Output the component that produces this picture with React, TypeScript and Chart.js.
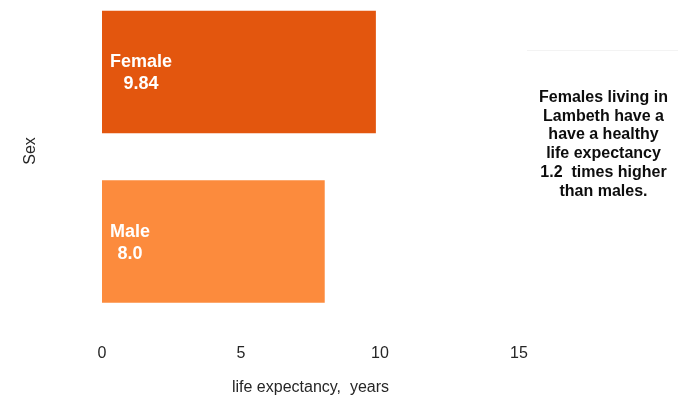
import React, { useEffect, useRef } from "react";
import { Chart, registerables } from "chart.js";

Chart.register(...registerables);

const categories = ["Female", "Male"];
const values = [9.84, 8.0];
const valueLabels = ["9.84", "8.0"];
const barColors = ["#E3560E", "#FC8B3D"];
const xTicks = [0, 5, 10, 15];
const xTitle = "life expectancy,  years";
const yTitle = "Sex";
const noteLines = [
  "Females living in",
  "Lambeth have a",
  "have a healthy",
  "life expectancy",
  "1.2  times higher",
  "than males.",
];

const FONT = '"Liberation Sans", Arial, sans-serif';

const textPlugin = {
  id: "textPlugin",
  afterDatasetsDraw(chart: any) {
    const ctx = chart.ctx;
    const meta = chart.getDatasetMeta(0);
    ctx.save();
    // bar labels
    ctx.fillStyle = "#ffffff";
    ctx.font = `bold 18px ${FONT}`;
    ctx.textAlign = "center";
    ctx.textBaseline = "middle";
    meta.data.forEach((bar: any, i: number) => {
      const lines = [categories[i], valueLabels[i]];
      const w = Math.max(...lines.map((l) => ctx.measureText(l).width));
      const left = Math.min(bar.base, bar.x) + 8;
      const cx = left + w / 2;
      ctx.fillText(lines[0], cx, bar.y - 9.5);
      ctx.fillText(lines[1], cx, bar.y + 12.5);
    });
    // y axis title
    ctx.fillStyle = "#262626";
    ctx.font = `16px ${FONT}`;
    ctx.save();
    ctx.translate(31, 151);
    ctx.rotate(-Math.PI / 2);
    ctx.fillText(yTitle, 0, 0);
    ctx.restore();
    // note
    ctx.strokeStyle = "#f3f3f3";
    ctx.lineWidth = 1;
    ctx.beginPath();
    ctx.moveTo(527, 50.5);
    ctx.lineTo(678, 50.5);
    ctx.stroke();
    ctx.fillStyle = "#0d0d0d";
    ctx.font = `bold 16px ${FONT}`;
    ctx.textBaseline = "alphabetic";
    noteLines.forEach((l, i) => {
      ctx.fillText(l, 603.5, 102 + i * 18.7);
    });
    ctx.restore();
  },
};

export default function App() {
  const ref = useRef<HTMLCanvasElement>(null);
  useEffect(() => {
    const chart = new Chart(ref.current!, {
      type: "bar",
      data: {
        labels: categories,
        datasets: [
          {
            data: values.map((v, i) => ({ x: v, y: i })),
            backgroundColor: barColors,
            borderWidth: 0,
            barThickness: 122,
          },
        ],
      },
      options: {
        indexAxis: "y",
        animation: false,
        responsive: true,
        maintainAspectRatio: false,
        layout: { padding: { left: 102, right: 173, top: 0, bottom: 0 } },
        plugins: { legend: { display: false }, tooltip: { enabled: false } },
        scales: {
          y: {
            type: "linear",
            display: false,
            reverse: true,
            offset: false,
            min: -0.425,
            max: 1.5,
          },
          x: {
            type: "linear",
            min: xTicks[0],
            max: xTicks[xTicks.length - 1],
            grid: { display: false, drawTicks: false },
            border: { display: false },
            afterBuildTicks: (scale: any) => {
              scale.ticks = xTicks.map((v) => ({ value: v }));
            },
            ticks: {
              padding: 17.5,
              color: "#262626",
              font: { family: FONT, size: 16, lineHeight: 1.2 },
            },
            title: {
              display: true,
              text: xTitle,
              color: "#262626",
              font: { family: FONT, size: 16, lineHeight: 0.7 },
              padding: { top: 1.75, bottom: 10.6 },
            },
          },
        },
      },
      plugins: [textPlugin],
    });
    return () => chart.destroy();
  }, []);
  return (
    <div style={{ position: "fixed", left: 0, top: 0, width: 692, height: 404 }}>
      <canvas ref={ref} />
    </div>
  );
}
